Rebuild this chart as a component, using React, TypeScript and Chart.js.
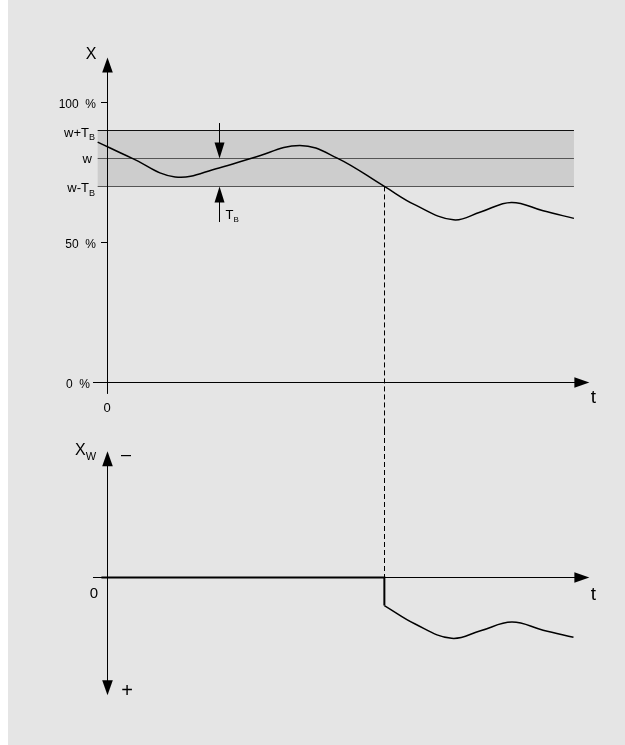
import React, { useEffect, useRef } from 'react';
import { Chart, registerables } from 'chart.js';

Chart.register(...registerables);

// ---------- data ----------
const W_SETPOINT = 80; // w, in %
const T_BAND = 10; // T_B, in %
const TOP_TICK_VALUES = [100, 50, 0];
const TOP_TICK_LABELS = ['100  %', '50  %', '0  %'];

// controlled variable x (%) over time t
const T_TOP = [-2, 5.3, 14.6, 24, 31.3, 41.3, 49.2, 59.4, 66, 74.2, 80, 86.6, 93.4, 100];
const X_TOP = [85.8, 80.1, 73.4, 76.6, 80.2, 84.6, 80.2, 70.0, 63.4, 58.1, 60.9, 64.3, 61.3, 58.6];

// control deviation x_w (positive downward)
const T_FLAT = [-1.2, 59.4, 59.4];
const XW_FLAT = [0, 0, 10];
const T_BOT = [59.4, 66, 73.8, 80, 86.7, 93.4, 99.9];
const XW_BOT = [10, 16.6, 21.7, 19.0, 15.9, 18.8, 21.3];

const T_CROSS = 59.4; // x leaves the band (w - T_B)
const T_MARK = 24; // position of the T_B dimension arrows
const T_BAND_START = -2;
const T_BAND_END = 100;

// ---------- styles ----------
const FONT = '"Liberation Sans", Arial, Helvetica, sans-serif';
const BG = '#e5e5e5';
const BAND_FILL = '#cdcdcd';
const X_MIN = -3;
const X_MAX = 103.5;
const X_ARROW_END = 103.3;

const crisp = (v: number) => Math.round(v - 0.5) + 0.5;

function hline(ctx: CanvasRenderingContext2D, x0: number, x1: number, y: number, color: string, w = 1) {
  ctx.beginPath();
  ctx.strokeStyle = color;
  ctx.lineWidth = w;
  const yy = w % 2 === 1 ? crisp(y) : Math.round(y);
  ctx.moveTo(x0, yy);
  ctx.lineTo(x1, yy);
  ctx.stroke();
}
function vline(ctx: CanvasRenderingContext2D, x: number, y0: number, y1: number, color: string, w = 1) {
  ctx.beginPath();
  ctx.strokeStyle = color;
  ctx.lineWidth = w;
  const xx = crisp(x);
  ctx.moveTo(xx, y0);
  ctx.lineTo(xx, y1);
  ctx.stroke();
}
function arrow(ctx: CanvasRenderingContext2D, tipX: number, tipY: number, dir: 'up' | 'down' | 'right', len = 15, hw = 5.3) {
  ctx.beginPath();
  ctx.fillStyle = '#000';
  if (dir === 'up') {
    ctx.moveTo(tipX, tipY);
    ctx.lineTo(tipX - hw, tipY + len);
    ctx.lineTo(tipX + hw, tipY + len);
  } else if (dir === 'down') {
    ctx.moveTo(tipX, tipY);
    ctx.lineTo(tipX - hw, tipY - len);
    ctx.lineTo(tipX + hw, tipY - len);
  } else {
    ctx.moveTo(tipX, tipY);
    ctx.lineTo(tipX - len, tipY - hw);
    ctx.lineTo(tipX - len, tipY + hw);
  }
  ctx.closePath();
  ctx.fill();
}
function textSub(
  ctx: CanvasRenderingContext2D,
  main: string,
  sub: string,
  x: number,
  baseline: number,
  size: number,
  subSize: number,
  drop: number,
  align: 'left' | 'right'
) {
  ctx.textAlign = 'left';
  ctx.textBaseline = 'alphabetic';
  ctx.fillStyle = '#000';
  ctx.font = `${size}px ${FONT}`;
  const mw = ctx.measureText(main).width;
  ctx.font = `${subSize}px ${FONT}`;
  const sw = ctx.measureText(sub).width;
  const start = align === 'right' ? x - mw - sw : x;
  ctx.font = `${size}px ${FONT}`;
  ctx.fillText(main, start, baseline);
  ctx.font = `${subSize}px ${FONT}`;
  ctx.fillText(sub, start + mw, baseline + drop);
}
function text(ctx: CanvasRenderingContext2D, s: string, x: number, baseline: number, size: number, align: CanvasTextAlign) {
  ctx.textAlign = align;
  ctx.textBaseline = 'alphabetic';
  ctx.fillStyle = '#000';
  ctx.font = `${size}px ${FONT}`;
  ctx.fillText(s, x, baseline);
}

const topPlugin = {
  id: 'topDecor',
  beforeDatasetsDraw(chart: any) {
    const { ctx } = chart;
    const x = chart.scales.x;
    const y = chart.scales.y;
    ctx.save();
    const bx0 = x.getPixelForValue(T_BAND_START);
    const bx1 = x.getPixelForValue(T_BAND_END);
    const yHi = y.getPixelForValue(W_SETPOINT + T_BAND);
    const yW = y.getPixelForValue(W_SETPOINT);
    const yLo = y.getPixelForValue(W_SETPOINT - T_BAND);
    ctx.fillStyle = BAND_FILL;
    ctx.fillRect(bx0, Math.round(yHi), bx1 - bx0, Math.round(yLo) - Math.round(yHi));
    hline(ctx, bx0, bx1, yHi, '#111');
    hline(ctx, bx0, bx1, yW, '#555');
    hline(ctx, bx0, bx1, yLo, '#555');

    const x0 = x.getPixelForValue(0);
    const y0 = y.getPixelForValue(0);
    // y axis
    vline(ctx, x0, y.bottom, y.top + 10, '#000');
    arrow(ctx, crisp(x0), y.top, 'up');
    // t axis
    const xe = x.getPixelForValue(X_ARROW_END);
    hline(ctx, x.left, xe - 10, y0, '#000');
    arrow(ctx, xe, crisp(y0), 'right');
    // ticks
    TOP_TICK_VALUES.forEach((v) => {
      if (v === 0) return;
      const py = y.getPixelForValue(v);
      hline(ctx, x0 - 6, x0, py, '#000');
    });
    ctx.restore();
  },
  afterDatasetsDraw(chart: any) {
    const { ctx } = chart;
    const x = chart.scales.x;
    const y = chart.scales.y;
    ctx.save();
    const x0 = x.getPixelForValue(0);
    const y0 = y.getPixelForValue(0);
    const yHi = y.getPixelForValue(W_SETPOINT + T_BAND);
    const yW = y.getPixelForValue(W_SETPOINT);
    const yLo = y.getPixelForValue(W_SETPOINT - T_BAND);

    // dashed drop line
    const xc = x.getPixelForValue(T_CROSS);
    ctx.setLineDash([5, 3]);
    vline(ctx, xc, yLo, chart.height, '#000');
    ctx.setLineDash([]);

    // T_B dimension arrows
    const xm = crisp(x.getPixelForValue(T_MARK));
    vline(ctx, xm, y.getPixelForValue(W_SETPOINT + 12.6), yW - 10, '#000');
    arrow(ctx, xm, yW, 'down', 16, 5);
    vline(ctx, xm, yLo + 10, y.getPixelForValue(W_SETPOINT - 22.7), '#000');
    arrow(ctx, xm, yLo, 'up', 16, 5);
    textSub(ctx, 'T', 'B', xm + 6, yLo + 33, 13, 8, 3, 'left');

    // tick labels
    TOP_TICK_VALUES.forEach((v, i) => {
      const py = y.getPixelForValue(v);
      text(ctx, TOP_TICK_LABELS[i], v === 0 ? x0 - 17 : x0 - 11, py + 5.5, 12, 'right');
    });
    // band labels
    textSub(ctx, 'w+T', 'B', x0 - 12, yHi + 6.5, 13, 9, 3.5, 'right');
    text(ctx, 'w', x0 - 15, yW + 5, 13, 'right');
    textSub(ctx, 'w-T', 'B', x0 - 12, yLo + 6, 13, 9, 3.5, 'right');

    // axis titles
    text(ctx, 'X', x0 - 16, y.top + 2, 16, 'center');
    text(ctx, 't', x.getPixelForValue(X_ARROW_END) + 4, y0 + 20, 19, 'center');
    text(ctx, '0', x0, y0 + 29, 13, 'center');
    ctx.restore();
  },
};

const botPlugin = {
  id: 'botDecor',
  beforeDatasetsDraw(chart: any) {
    const { ctx } = chart;
    const x = chart.scales.x;
    const y = chart.scales.y;
    ctx.save();
    const x0 = x.getPixelForValue(0);
    const y0 = y.getPixelForValue(0);
    vline(ctx, x0, y.top + 10, y.bottom - 10, '#000');
    arrow(ctx, crisp(x0), y.top, 'up');
    arrow(ctx, crisp(x0), y.bottom, 'down');
    const xe = x.getPixelForValue(X_ARROW_END);
    hline(ctx, x.left, xe - 10, y0, '#000');
    arrow(ctx, xe, crisp(y0), 'right');
    // dashed line continues from the upper diagram
    const xc = x.getPixelForValue(T_CROSS);
    ctx.setLineDash([5, 3]);
    vline(ctx, xc, 0, y0, '#000');
    ctx.setLineDash([]);
    ctx.restore();
  },
  afterDatasetsDraw(chart: any) {
    const { ctx } = chart;
    const x = chart.scales.x;
    const y = chart.scales.y;
    ctx.save();
    const x0 = x.getPixelForValue(0);
    const y0 = y.getPixelForValue(0);
    textSub(ctx, 'X', 'W', x0 - 32, y.top + 4, 16, 11, 5, 'left');
    text(ctx, '–', x0 + 19, y.top + 9, 18, 'center');
    text(ctx, '+', x0 + 20, y.bottom + 2, 20, 'center');
    text(ctx, '0', x0 - 13, y0 + 20, 15, 'center');
    text(ctx, 't', x.getPixelForValue(X_ARROW_END) + 4, y0 + 22, 19, 'center');
    ctx.restore();
  },
};

const TOP_H = 430;
const BOT_H = 315;
const W = 625;

export default function App() {
  const topRef = useRef<HTMLCanvasElement | null>(null);
  const botRef = useRef<HTMLCanvasElement | null>(null);

  useEffect(() => {
    const pxPerUnitX = 4.6695;
    const padLeft = 107 + X_MIN * pxPerUnitX; // 93
    const padRight = W - (107 + X_MAX * pxPerUnitX);
    const pxPerPct = 2.804;

    const topYMin = -4;
    const topYMax = 116;
    const topZero = 382.7;
    const top = new Chart(topRef.current as HTMLCanvasElement, {
      type: 'line',
      data: {
        datasets: [
          {
            data: T_TOP.map((t, i) => ({ x: t, y: X_TOP[i] })),
            borderColor: '#000',
            borderWidth: 1.5,
            pointRadius: 0,
            tension: 0.4,
            fill: false,
          },
        ],
      },
      options: {
        responsive: false,
        maintainAspectRatio: false,
        animation: false,
        events: [],
        layout: {
          padding: {
            left: padLeft,
            right: padRight,
            top: topZero - topYMax * pxPerPct,
            bottom: TOP_H - (topZero - topYMin * pxPerPct),
          },
        },
        plugins: { legend: { display: false }, tooltip: { enabled: false } },
        scales: {
          x: { type: 'linear', min: X_MIN, max: X_MAX, display: false },
          y: { type: 'linear', min: topYMin, max: topYMax, display: false },
        },
      },
      plugins: [topPlugin],
    } as any);

    const botYMin = -45;
    const botYMax = 42;
    const botZero = 577.5 - TOP_H;
    const bot = new Chart(botRef.current as HTMLCanvasElement, {
      type: 'line',
      data: {
        datasets: [
          {
            data: T_FLAT.map((t, i) => ({ x: t, y: XW_FLAT[i] })),
            borderColor: '#000',
            borderWidth: 2,
            pointRadius: 0,
            tension: 0,
            fill: false,
          },
          {
            data: T_BOT.map((t, i) => ({ x: t, y: XW_BOT[i] })),
            borderColor: '#000',
            borderWidth: 1.5,
            pointRadius: 0,
            tension: 0.4,
            fill: false,
          },
        ],
      },
      options: {
        responsive: false,
        maintainAspectRatio: false,
        animation: false,
        events: [],
        layout: {
          padding: {
            left: padLeft,
            right: padRight,
            top: botZero + botYMin * pxPerPct,
            bottom: BOT_H - (botZero + botYMax * pxPerPct),
          },
        },
        plugins: { legend: { display: false }, tooltip: { enabled: false } },
        scales: {
          x: { type: 'linear', min: X_MIN, max: X_MAX, display: false },
          y: { type: 'linear', min: botYMin, max: botYMax, reverse: true, display: false },
        },
      },
      plugins: [botPlugin],
    } as any);

    return () => {
      top.destroy();
      bot.destroy();
    };
  }, []);

  return (
    <div style={{ position: 'fixed', left: 0, top: 0, width: W, height: TOP_H + BOT_H, background: '#fff' }}>
      <div style={{ position: 'absolute', left: 8, top: 0, right: 0, bottom: 0, background: BG }} />
      <canvas ref={topRef} width={W} height={TOP_H} style={{ position: 'absolute', left: 0, top: 0, width: W, height: TOP_H }} />
      <canvas ref={botRef} width={W} height={BOT_H} style={{ position: 'absolute', left: 0, top: TOP_H, width: W, height: BOT_H }} />
    </div>
  );
}
